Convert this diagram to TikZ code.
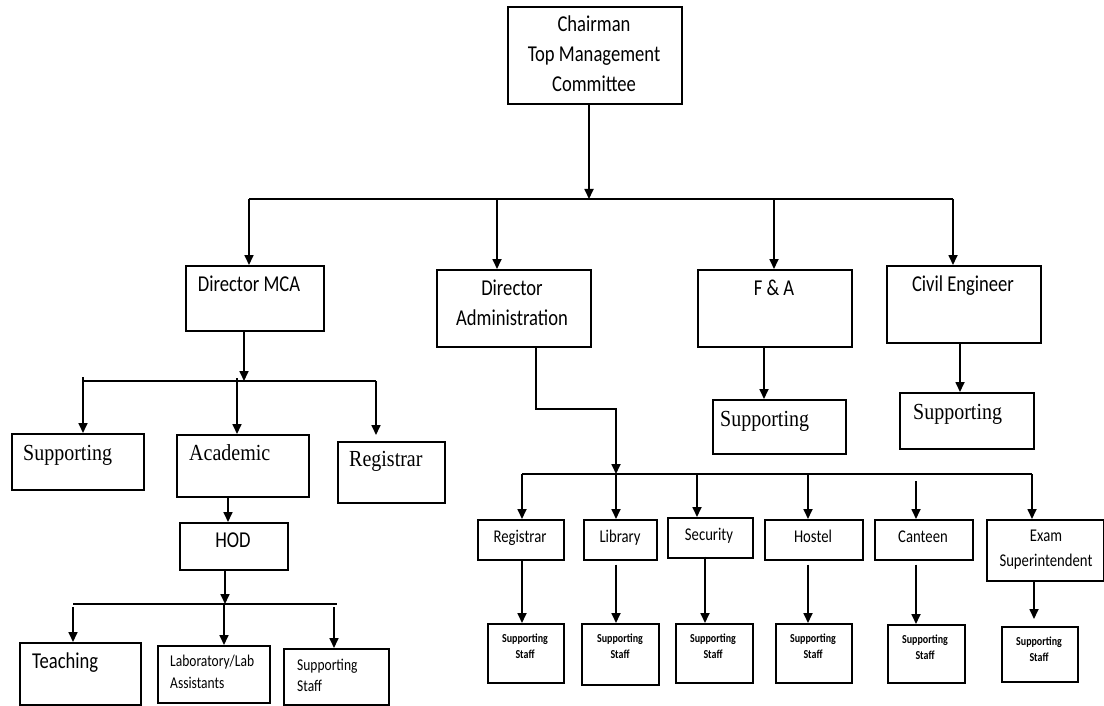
\documentclass[tikz,border=0pt]{standalone}
\usepackage{fontspec}
\setmainfont{Carlito}
\newfontfamily\tms{Liberation Serif}
\usetikzlibrary{arrows.meta}
\newcommand\vs[1]{\scalebox{1}[1.22]{#1}}
\newcommand\vt[1]{\scalebox{1}[1.15]{#1}}
\tikzset{
  box/.style={draw, line width=1.7pt, inner sep=0pt, anchor=north west},
  lbl/.style={inner sep=0pt, text height=0.786em, text depth=0pt, font=\fontsize{18.6}{18.6}\selectfont},
  lblw/.style={lbl, anchor=west},
  tlbl/.style={inner sep=0pt, anchor=west, text height=0.76em, text depth=0pt, font=\tms\fontsize{20}{20}\selectfont},
  mlbl/.style={inner sep=0pt, text height=0.786em, text depth=0pt, font=\fontsize{14.7}{14.7}\selectfont},
  slbl/.style={inner sep=0pt, anchor=west, text height=0.786em, text depth=0pt, font=\fontsize{13.5}{13.5}\selectfont},
  xlbl/.style={inner sep=0pt, text height=0.786em, text depth=0pt, font=\bfseries\fontsize{10}{10}\selectfont},
  ln/.style={line width=1.7pt},
  arr/.style={line width=1.7pt, -{Triangle[length=10pt,width=9pt]}},
}
\newcommand\bx[5]{\node[box, minimum width={#4pt-#2pt}, minimum height={#5pt-#3pt}] (#1) at (#2,#3) {};}
\begin{document}
\begin{tikzpicture}[x=1pt,y=-1pt]
\useasboundingbox[fill=white] (0,0) rectangle (1104,706);
% ---------- boxes ----------
\bx{chair}{507}{6}{681}{103}
\bx{dmca}{185}{265}{323}{330}
\bx{dadm}{436}{269}{590}{346}
\bx{fa}{697}{269}{851}{346}
\bx{civ}{886}{265}{1040}{342}
\bx{sup1}{11}{433}{143}{489}
\bx{acad}{176}{434}{308}{496}
\bx{reg1}{337}{441}{444}{502}
\bx{hod}{179}{522}{287}{569}
\bx{teach}{19}{642}{140}{704}
\bx{lab}{157}{645}{269}{702}
\bx{hss}{283}{648}{388}{704}
\bx{fasup}{712}{399}{845}{453}
\bx{cisup}{899}{392}{1033}{448}
\bx{r2}{477}{519}{563}{559}
\bx{lib}{583}{519}{656}{559}
\bx{sec}{667}{517}{752}{557}
\bx{hos}{764}{519}{862}{559}
\bx{can}{874}{519}{972}{559}
\bx{exam}{986}{519}{1103}{580}
\bx{ss1}{487}{623}{563}{682}
\bx{ss2}{581}{623}{658}{684}
\bx{ss3}{675}{623}{752}{682}
\bx{ss4}{775}{623}{851}{682}
\bx{ss5}{887}{624}{964}{682}
\bx{ss6}{1001}{626}{1077}{681}
% ---------- texts ----------
\node[lbl] (chairT1) at (594,28) {\vs{Chairman}};
\node[lbl] (chairT2) at (594,58) {\vs{Top Management}};
\node[lbl] (chairT3) at (594,88) {\vs{Committee}};
\node[lbl] (dmcaT) at (249,288) {\vs{Director MCA}};
\node[lbl] (dadmT1) at (512,292) {\vs{Director}};
\node[lbl] (dadmT2) at (512,322) {\vs{Administration}};
\node[lbl] (faT) at (774,292) {\vs{F \& A}};
\node[lbl] (civT) at (963,288) {\vs{Civil Engineer}};
\node[tlbl] (sup1T) at (23,457) {\vt{Supporting}};
\node[tlbl] (acadT) at (189,457) {\vt{Academic}};
\node[tlbl] (reg1T) at (349,463) {\vt{Registrar}};
\node[lbl] (hodT) at (233,544) {\vs{HOD}};
\node[lblw] (teachT) at (32,665) {\vs{Teaching}};
\node[slbl] (labT1) at (170,663) {\vs{Laboratory/Lab}};
\node[slbl] (labT2) at (170,685) {\vs{Assistants}};
\node[slbl] (hssT1) at (297,667) {\vs{Supporting}};
\node[slbl] (hssT2) at (297,688) {\vs{Staff}};
\node[tlbl] (fasupT) at (720,423) {\vt{Supporting}};
\node[tlbl] (cisupT) at (913,416) {\vt{Supporting}};
\node[mlbl] (r2T) at (520,539) {\vs{Registrar}};
\node[mlbl] (libT) at (620,539) {\vs{Library}};
\node[mlbl] (secT) at (709,537) {\vs{Security}};
\node[mlbl] (hosT) at (813,539) {\vs{Hostel}};
\node[mlbl] (canT) at (923,539) {\vs{Canteen}};
\node[mlbl] (examT1) at (1046,538) {\vs{Exam}};
\node[mlbl] (examT2) at (1046,563) {\vs{Superintendent}};
\foreach \n/\x/\y in {ss1/525/647, ss2/620/647, ss3/713/647, ss4/813/647, ss5/925/648, ss6/1039/650}{
  \node[xlbl] (\n T1) at (\x,\y-8) {\vs{Supporting}};
  \node[xlbl] (\n T2) at (\x,\y+8) {\vs{Staff}};
}
% ---------- connectors: level 1 ----------
\coordinate (b1c) at (589,199);
\coordinate (b1a) at (249,199);
\coordinate (b1b) at (497,199);
\coordinate (b1d) at (774,199);
\coordinate (b1e) at (953,199);
\draw[arr] (chair.south -| b1c) -- (b1c);
\draw[ln] (b1a) -- (b1e);
\draw[arr] (b1a) -- (b1a |- dmca.north);
\draw[arr] (b1b) -- (b1b |- dadm.north);
\draw[arr] (b1d) -- (b1d |- fa.north);
\draw[arr] (b1e) -- (b1e |- civ.north);
% ---------- Director MCA ----------
\coordinate (b2c) at (244,381);
\coordinate (b2a) at (83,381);
\coordinate (b2b) at (237,381);
\coordinate (b2d) at (376,381);
\draw[arr] (dmca.south -| b2c) -- (b2c);
\draw[ln] (b2a) -- (b2d);
\draw[arr] ([yshift=4pt]b2a) -- (b2a |- sup1.north);
\draw[arr] ([yshift=3pt]b2b) -- (b2b |- acad.north);
\draw[arr, shorten >=6pt] (b2d) -- (b2d |- reg1.north);
\coordinate (acadhod) at (228,0);
\draw[arr] (acad.south -| acadhod) -- (hod.north -| acadhod);
\coordinate (b3c) at (225,604);
\coordinate (b3a) at (73,604);
\coordinate (b3b) at (224,604);
\coordinate (b3d) at (334,604);
\coordinate (b3e) at (337,604);
\draw[arr] (hod.south -| b3c) -- (b3c);
\draw[ln] (b3a) -- (b3e);
\draw[arr] ([yshift=-3pt]b3a) -- (b3a |- teach.north);
\draw[arr] (b3b) -- (b3b |- lab.north);
\draw[arr] ([yshift=-3pt]b3d) -- (b3d |- hss.north);
% ---------- F&A, Civil ----------
\coordinate (fax) at (764,0);
\draw[arr] (fa.south -| fax) -- (fasup.north -| fax);
\coordinate (civx) at (960,0);
\draw[arr] (civ.south -| civx) -- (cisup.north -| civx);
% ---------- Director Administration ----------
\coordinate (da1) at (536,409);
\coordinate (da2) at (616,409);
\coordinate (b4b) at (616,474);
\coordinate (b4a) at (522,474);
\coordinate (b4c) at (697,474);
\coordinate (b4d) at (808,474);
\coordinate (b4e) at (916,481);
\coordinate (b4f) at (1032,474);
\draw[arr] (dadm.south -| da1) -- (da1) -- (da2) -- (b4b);
\draw[ln] (b4a) -- (b4f);
\draw[arr] (b4a) -- (b4a |- r2.north);
\draw[arr] (b4b) -- (b4b |- lib.north);
\draw[arr] (b4c) -- (b4c |- sec.north);
\draw[arr] (b4d) -- (b4d |- hos.north);
\draw[arr] (b4e) -- (b4e |- can.north);
\draw[arr] (b4f) -- (b4f |- exam.north);
\draw[arr] (r2.south -| b4a) -- (ss1.north -| b4a);
\draw[arr] ([yshift=-4pt]lib.south -| b4b) -- (ss2.north -| b4b);
\coordinate (secx) at (705,0);
\draw[arr] ([yshift=2pt]sec.south -| secx) -- (ss3.north -| secx);
\draw[arr] ([yshift=-4pt]hos.south -| b4d) -- (ss4.north -| b4d);
\draw[arr] ([yshift=-4pt]can.south -| b4e) -- (ss5.north -| b4e);
\coordinate (exx) at (1034,0);
\draw[arr, shorten >=7pt] (exam.south -| exx) -- (ss6.north -| exx);
\end{tikzpicture}
\end{document}
